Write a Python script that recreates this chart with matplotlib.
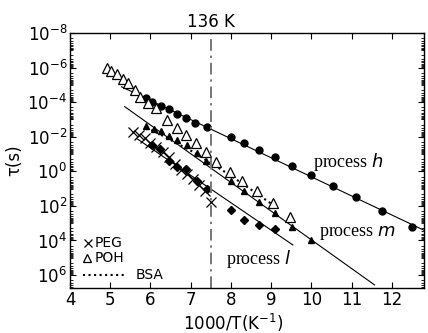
import numpy as np
import matplotlib
matplotlib.use('Agg')
import matplotlib.pyplot as plt
from matplotlib.ticker import FixedLocator, LogLocator, LogFormatterMathtext, NullFormatter

# process h (filled circles), x = 1000/T, values are log10(tau)
h_x = [5.88, 6.05, 6.25, 6.46, 6.66, 6.88, 7.10, 7.41, 8.00, 8.33, 8.70, 9.09, 9.53, 10.00, 10.53, 11.10, 11.75, 12.49]
h_log = [-4.22, -4.03, -3.78, -3.59, -3.32, -3.07, -2.81, -2.58, -1.98, -1.66, -1.23, -0.85, -0.33, 0.21, 0.85, 1.50, 2.28, 3.20]

# process m (filled triangles)
m_x = [5.89, 6.08, 6.26, 6.46, 6.67, 6.90, 7.16, 7.39, 8.01, 8.33, 8.70, 9.09, 9.53, 10.00]
m_log = [-2.64, -2.45, -2.33, -2.06, -1.81, -1.50, -1.04, -0.60, 0.54, 1.14, 1.76, 2.39, 3.20, 3.97]

# process l (filled diamonds)
l_x = [6.03, 6.23, 6.45, 6.67, 6.89, 7.15, 7.41, 8.01, 8.33, 8.70, 9.09]
l_log = [-1.55, -1.28, -0.60, -0.25, -0.12, 0.57, 1.02, 2.26, 2.82, 3.10, 3.35]

# PEG (crosses)
peg_x = [5.57, 5.72, 5.86, 6.00, 6.15, 6.30, 6.45, 6.60, 6.75, 6.90, 7.05, 7.20, 7.35, 7.51]
peg_log = [-2.30, -2.10, -1.90, -1.65, -1.40, -1.10, -0.80, -0.45, -0.10, 0.15, 0.45, 0.80, 1.15, 1.76]

# POH (open triangles)
poh_x = [4.91, 5.03, 5.16, 5.31, 5.45, 5.61, 5.74, 5.93, 6.13, 6.42, 6.65, 6.88, 7.12, 7.37, 7.64, 7.97, 8.28, 8.65, 9.05, 9.47]
poh_log = [-5.96, -5.82, -5.63, -5.34, -5.09, -4.70, -4.32, -3.95, -3.65, -2.97, -2.50, -2.10, -1.62, -1.12, -0.53, 0.02, 0.54, 1.14, 1.81, 2.62]

# BSA (dotted curve)
bsa_x = [5.90, 7.00, 8.00, 9.05]
bsa_log = [-2.55, -1.20, 0.25, 1.95]

# straight-line fits (end points)
h_fit_x = [5.28, 12.9]
h_fit_log = [-4.89, 3.52]
m_fit_x = [5.36, 11.57]
m_fit_log = [-3.74, 6.57]
l_fit_x = [5.65, 9.54]
l_fit_log = [-1.91, 4.26]

T_line = 7.5
y_ticks = [-8, -6, -4, -2, 0, 2, 4, 6]
x_ticks = [4, 5, 6, 7, 8, 9, 10, 11, 12]


def tau(v):
    return 10.0 ** np.array(v)


fig = plt.figure(figsize=(4.28, 3.33), dpi=100)
ax = fig.add_axes([70 / 428, 1 - 288 / 333, 354 / 428, 255 / 333])

# fit lines
for fx, fy in [(h_fit_x, h_fit_log), (m_fit_x, m_fit_log), (l_fit_x, l_fit_log)]:
    ax.plot(fx, tau(fy), color='black', lw=0.8)

ax.plot(bsa_x, tau(bsa_log), color='black', ls=':', lw=1.5)

ax.plot(h_x, tau(h_log), 'o', color='black', ms=5)
ax.plot(m_x, tau(m_log), '^', color='black', ms=5)
ax.plot(l_x, tau(l_log), 'D', color='black', ms=3.8)
ax.plot(peg_x, tau(peg_log), 'x', color='black', ms=6.5, mew=0.9)
ax.plot(poh_x, tau(poh_log), '^', mfc='white', mec='black', ms=6.5, mew=0.9)

ax.axvline(T_line, color='#777777', lw=1.4, ls=(0, (6, 2.5, 1.2, 2.5)))

ax.set_yscale('log')
ax.set_xlim(4, 12.8)
ax.set_ylim(10 ** 6.75, 1e-8)

ax.xaxis.set_major_locator(FixedLocator(x_ticks))
ax.yaxis.set_major_locator(FixedLocator(tau(y_ticks)))
ax.yaxis.set_major_formatter(LogFormatterMathtext())
ax.yaxis.set_minor_locator(LogLocator(base=10, subs=np.arange(1, 10), numticks=100))
ax.yaxis.set_minor_formatter(NullFormatter())

ax.tick_params(which='both', direction='in', top=True, right=True, labelsize=12)
ax.tick_params(axis='x', which='major', length=4, pad=2)
ax.tick_params(axis='y', which='major', length=4, pad=2)
ax.tick_params(axis='y', which='minor', length=2)

for s in ax.spines.values():
    s.set_linewidth(1.0)

ax.set_xlabel('1000/T(K$^{-1}$)', fontsize=12, va='center')
ax.xaxis.set_label_coords(0.46, -0.137)
ax.set_ylabel('τ(s)', fontsize=12, va='center', ha='center')
ax.yaxis.set_label_coords(-0.158, 0.5)

ax.text(T_line, 1.044, '136 K', transform=ax.get_xaxis_transform(),
        ha='center', va='center', fontsize=12)

serif = 'Liberation Serif'
ax.text(10.05, tau(-0.56), 'process $\\it{h}$', family=serif, fontsize=13, va='center')
ax.text(10.18, tau(3.55), 'process $\\it{m}$', family=serif, fontsize=13, va='center')
ax.text(7.89, tau(5.07), 'process $\\it{l}$', family=serif, fontsize=13, va='center')

# legend drawn by hand
ax.plot([0.052], [0.175], 'x', color='black', ms=6, mew=0.9, transform=ax.transAxes)
ax.text(0.069, 0.175, 'PEG', transform=ax.transAxes, va='center', fontsize=10)
ax.plot([0.049], [0.116], '^', mfc='white', mec='black', ms=6, mew=0.9, transform=ax.transAxes)
ax.text(0.069, 0.116, 'POH', transform=ax.transAxes, va='center', fontsize=10)
ax.plot([0.038, 0.160], [0.051, 0.051], color='black', ls=':', lw=1.5, transform=ax.transAxes)
ax.text(0.184, 0.051, 'BSA', transform=ax.transAxes, va='center', fontsize=10)

plt.savefig('out.png', dpi=100)
